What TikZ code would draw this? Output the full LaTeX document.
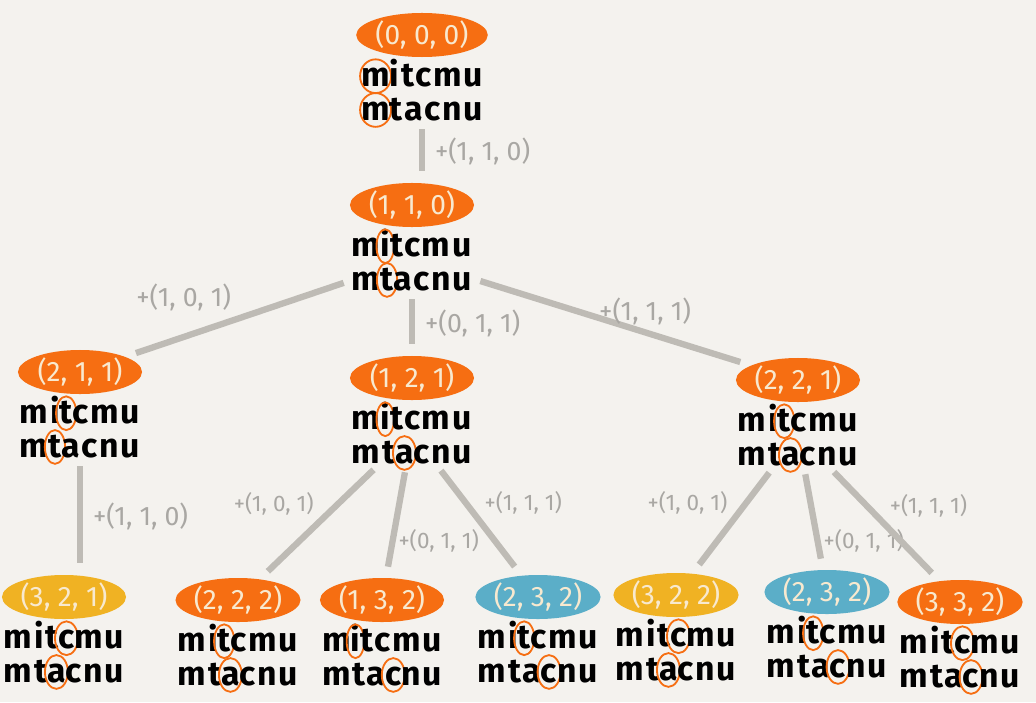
\documentclass[tikz,border=0pt]{standalone}
\usepackage{fontspec}
\setmainfont{Fira Sans}
\usetikzlibrary{shapes.geometric,positioning}
\definecolor{paper}{HTML}{F4F2EE}
\definecolor{hotorange}{HTML}{F66E12}
\definecolor{warmyellow}{HTML}{F0B223}
\definecolor{coolblue}{HTML}{5BAEC8}
\definecolor{cream}{HTML}{F8E9CF}
\definecolor{linegray}{HTML}{BEBBB5}
\definecolor{labelgray}{HTML}{A9A7A3}
\tikzset {
  tag/.style={ellipse, inner sep=0pt, minimum width=3.1cm, minimum height=1.1cm,
    text=cream, font=\fontsize{20}{24}\selectfont},
  hot/.style={tag, fill=hotorange},
  warm/.style={tag, fill=warmyellow},
  cool/.style={tag, fill=coolblue},
  words/.style={align=left, inner sep=0pt,
    font=\bfseries\fontsize{24}{24}\selectfont\addfontfeatures{LetterSpace=5}},
  edge/.style={draw=linegray, line width=4.5pt, shorten <=6pt, shorten >=8pt},
  delta/.style={text=labelgray, font=\fontsize{19}{22}\selectfont, inner sep=3pt},
  small delta/.style={delta, font=\fontsize{16}{20}\selectfont, inner sep=2pt},
  ring/.style={draw=hotorange, line width=1.3pt},
}
% orange ring round one letter
\newcommand{\ring}[2][0.34em]{\tikz[baseline=(r.base)]{\node[inner sep=0pt] (r) {#2};
  \draw[ring, overlay] ([yshift=0.3em]r.base) ellipse [x radius=#1, y radius=0.5em];}}

\begin{document}
\begin{tikzpicture}[x=0.025cm, y=-0.025cm]
  \fill[paper] (0,0) rectangle (1036,702);
  \useasboundingbox (0,0) rectangle (1036,702);

  % level 0 and 1
  \node[hot] (n000) at (422,35) {(0, 0, 0)};
  \node[words, below=1pt of n000] (t000) {\ring[.46em]{m}itcmu\\\ring[.46em]{m}tacnu};
  \node[hot] (n110) at (412,205) {(1, 1, 0)};
  \node[words, below=1pt of n110] (t110) {m\ring[.26em]{i}tcmu\\m\ring[.3em]{t}acnu};

  % level 2
  \node[hot] (n211) at (80,372) {(2, 1, 1)};
  \node[words, below=1pt of n211] (t211) {mi\ring[.3em]{t}cmu\\m\ring[.3em]{t}acnu};
  \node[hot] (n121) at (412,378) {(1, 2, 1)};
  \node[words, below=1pt of n121] (t121) {m\ring[.26em]{i}tcmu\\mt\ring{a}cnu};
  \node[hot] (n221) at (798,380) {(2, 2, 1)};
  \node[words, below=1pt of n221] (t221) {mi\ring[.3em]{t}cmu\\mt\ring{a}cnu};

  % level 3
  \node[warm] (n321) at (64,597) {(3, 2, 1)};
  \node[words, below=1pt of n321] (t321) {mit\ring{c}mu\\mt\ring{a}cnu};
  \node[hot] (n222) at (238,600) {(2, 2, 2)};
  \node[words, below=1pt of n222] (t222) {mi\ring[.3em]{t}cmu\\mt\ring{a}cnu};
  \node[hot] (n132) at (382,600) {(1, 3, 2)};
  \node[words, below=1pt of n132] (t132) {m\ring[.26em]{i}tcmu\\mta\ring{c}nu};
  \node[cool] (n232) at (538,597) {(2, 3, 2)};
  \node[words, below=1pt of n232] (t232) {mi\ring[.3em]{t}cmu\\mta\ring{c}nu};
  \node[warm] (n322) at (676,595) {(3, 2, 2)};
  \node[words, below=1pt of n322] (t322) {mit\ring{c}mu\\mt\ring{a}cnu};
  \node[cool] (m232) at (827,592) {(2, 3, 2)};
  \node[words, below=1pt of m232] (s232) {mi\ring[.3em]{t}cmu\\mta\ring{c}nu};
  \node[hot] (n332) at (960,602) {(3, 3, 2)};
  \node[words, below=1pt of n332] (t332) {mit\ring{c}mu\\mta\ring{c}nu};

  % connectors
  \draw[edge] (t000) -- node[delta, right=4pt] {+(1, 1, 0)} (t000 |- n110.north);
  \draw[edge] (t110) -- node[delta, above left] {+(1, 0, 1)} (n211);
  \draw[edge] (t110) -- node[delta, right=4pt] {+(0, 1, 1)} (n121);
  \draw[edge] (t110) -- node[delta, above, pos=.62] {+(1, 1, 1)} (n221);
  \draw[edge] (t211) -- node[delta, right=4pt] {+(1, 1, 0)} (t211 |- n321.north);
  \draw[edge] (t121) -- node[small delta, above left] {+(1, 0, 1)} (n222);
  \draw[edge] (t121) -- node[small delta, right, pos=.68] {+(0, 1, 1)} (n132);
  \draw[edge] (t121) -- node[small delta, above right] {+(1, 1, 1)} (n232);
  \draw[edge] (t221) -- node[small delta, above left] {+(1, 0, 1)} (n322);
  \draw[edge] (t221) -- node[small delta, right, pos=.72] {+(0, 1, 1)} (m232);
  \draw[edge] (t221) -- node[small delta, above right] {+(1, 1, 1)} (n332);
\end{tikzpicture}
\end{document}
